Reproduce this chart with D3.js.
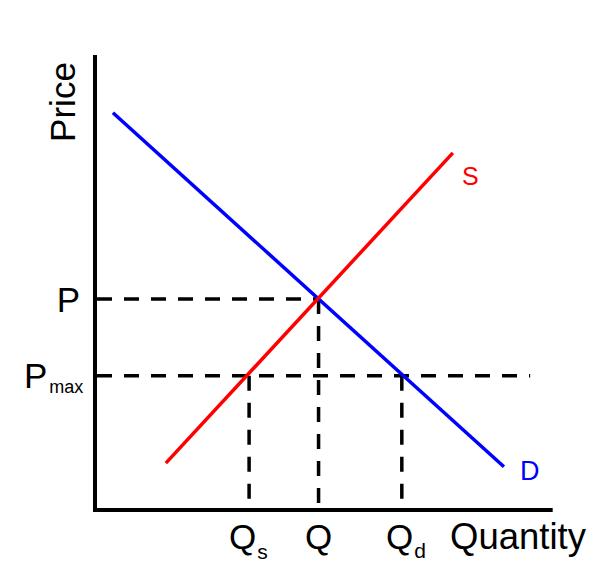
<!DOCTYPE html>
<html><head><meta charset="utf-8">
<script src="https://cdn.jsdelivr.net/npm/d3@7"></script>
<style>body{margin:0;background:#fff}svg{display:block}</style>
</head><body>
<script>
// Data (quantity, price) in abstract units 0..100
const demand = [[3.9, 87.3], [88.9, 9.5]];
const supply = [[15.4, 10.3], [77.8, 78.5]];
const equilibrium = {q: 48.6, p: 46.4};
const priceCeiling = 29.5;
const qSupplied = 33.5;
const qDemanded = 66.7;
const ceilingEnd = 94.6;
const priceLabels = ["P", "P", "max"];
const qtyLabels = ["Q", "s", "Q", "Q", "d"];

const W = 613, H = 583;
const svg = d3.select("body").append("svg").attr("width", W).attr("height", H);
const x = d3.scaleLinear().domain([0, 100]).range([95, 555]);
const y = d3.scaleLinear().domain([0, 100]).range([510, 55]);
const font = "'Liberation Sans', Arial, sans-serif";

// axes
svg.append("line").attr("x1", x(0)).attr("x2", x(0)).attr("y1", y(100)).attr("y2", y(0) + 2)
  .attr("stroke", "#000").attr("stroke-width", 4);
svg.append("line").attr("x1", x(0) - 2).attr("x2", x(99.5)).attr("y1", y(0)).attr("y2", y(0))
  .attr("stroke", "#000").attr("stroke-width", 4);

const dash = "15,12";
const dl = (x1, y1, x2, y2) => svg.append("line")
  .attr("x1", x1).attr("y1", y1).attr("x2", x2).attr("y2", y2)
  .attr("stroke", "#000").attr("stroke-width", 3.5).attr("stroke-dasharray", dash);

// dashed guides
dl(x(0) + 2, y(equilibrium.p), x(equilibrium.q), y(equilibrium.p));
dl(x(0) + 2, y(priceCeiling), x(ceilingEnd), y(priceCeiling));
dl(x(equilibrium.q), y(equilibrium.p), x(equilibrium.q), y(0));
dl(x(qSupplied), y(priceCeiling), x(qSupplied), y(0));
dl(x(qDemanded), y(priceCeiling), x(qDemanded), y(0));

const line = d3.line().x(d => x(d[0])).y(d => y(d[1]));
svg.append("path").datum(demand).attr("d", line).attr("fill", "none")
  .attr("stroke", "#0000ff").attr("stroke-width", 3.5);
svg.append("path").datum(supply).attr("d", line).attr("fill", "none")
  .attr("stroke", "#ff0000").attr("stroke-width", 3.5);

// labels
svg.append("text").attr("transform", "translate(75,102) rotate(-90)")
  .attr("text-anchor", "middle").attr("font-family", font).attr("font-size", 35).text("Price");
svg.append("text").attr("x", 80).attr("y", 312).attr("text-anchor", "end")
  .attr("font-family", font).attr("font-size", 35).text(priceLabels[0]);
const pm = svg.append("text").attr("x", 24).attr("y", 388).attr("font-family", font).attr("font-size", 35);
pm.append("tspan").text(priceLabels[1]);
pm.append("tspan").attr("font-size", 18).attr("dy", 5).attr("dx", 2).text(priceLabels[2]);

const q1 = svg.append("text").attr("x", 229).attr("y", 549).attr("font-family", font).attr("font-size", 35);
q1.append("tspan").text(qtyLabels[0]);
q1.append("tspan").attr("font-size", 21).attr("dy", 10).attr("dx", 1).text(qtyLabels[1]);
svg.append("text").attr("x", x(equilibrium.q)).attr("y", 549).attr("text-anchor", "middle")
  .attr("font-family", font).attr("font-size", 35).text(qtyLabels[2]);
const q2 = svg.append("text").attr("x", 386).attr("y", 549).attr("font-family", font).attr("font-size", 35);
q2.append("tspan").text(qtyLabels[3]);
q2.append("tspan").attr("font-size", 21).attr("dy", 9).attr("dx", 1).text(qtyLabels[4]);
svg.append("text").attr("x", 450).attr("y", 549).attr("font-family", font).attr("font-size", 36.5).text("Quantity");

svg.append("text").attr("x", 462).attr("y", 185).attr("font-family", font).attr("font-size", 25)
  .attr("fill", "#ff0000").text("S");
svg.append("text").attr("x", 520).attr("y", 480).attr("font-family", font).attr("font-size", 27)
  .attr("fill", "#0000ff").text("D");
</script>
</body></html>
